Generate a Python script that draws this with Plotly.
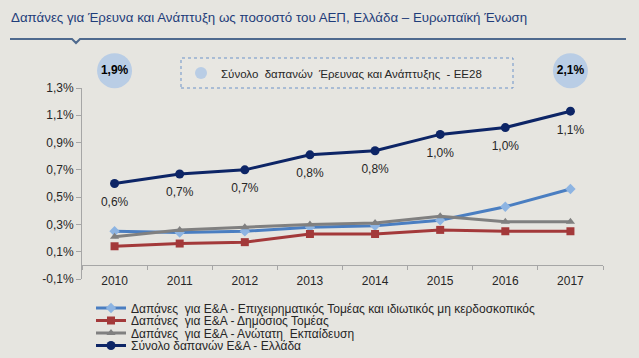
import plotly.graph_objects as go

years = ["2010", "2011", "2012", "2013", "2014", "2015", "2016", "2017"]
business = [0.25, 0.24, 0.25, 0.28, 0.29, 0.33, 0.43, 0.56]
government = [0.14, 0.16, 0.17, 0.23, 0.23, 0.26, 0.25, 0.25]
higher_ed = [0.21, 0.26, 0.28, 0.30, 0.31, 0.36, 0.32, 0.32]
greece_total = [0.60, 0.67, 0.70, 0.81, 0.84, 0.96, 1.01, 1.13]
ee28_years = ["2010", "2017"]
ee28_values = [1.9, 2.1]
ee28_row = [1, 1]
y_tick_vals = [-0.1, 0.1, 0.3, 0.5, 0.7, 0.9, 1.1, 1.3]
y_tick_text = ["-0,1%", "0,1%", "0,3%", "0,5%", "0,7%", "0,9%", "1,1%", "1,3%"]

names = [
    "Δαπάνες  για Ε&Α - Επιχειρηματικός Τομέας και ιδιωτικός μη κερδοσκοπικός",
    "Δαπάνες  για Ε&Α - Δημόσιος Τομέας",
    "Δαπάνες  για Ε&Α - Ανώτατη  Εκπαίδευση",
    "Σύνολο δαπανών Ε&Α - Ελλάδα",
]
ee28_name = "Σύνολο  δαπανών  Έρευνας και Ανάπτυξης  - ΕΕ28"
title_text = "Δαπάνες για Έρευνα και Ανάπτυξη ως ποσοστό του ΑΕΠ, Ελλάδα – Ευρωπαϊκή Ένωση"

def fmt(v):
    return f"{v:.1f}".replace(".", ",") + "%"

W, H = 639, 358
ML, MR, MT, MB = 82, 36, 50, 79
PW = W - ML - MR
PH = H - MT - MB
plot_bottom_px = H - MB

def px_x(p):
    return (p - ML) / PW

def px_y(p):
    return (plot_bottom_px - p) / PH

main_top_px = 88
dom = px_y(main_top_px)
zero_pos = dom * (0 - (-0.1)) / (1.3 - (-0.1))

BG = "#E6E5E0"
TXT = "#262626"
AXC = "#A6A6A6"
FONT = "Liberation Sans, Arial, sans-serif"

fig = go.Figure()

fig.add_trace(go.Scatter(
    x=years, y=business, name=names[0], mode="lines+markers",
    line=dict(color="#4A7EC1", width=3),
    marker=dict(symbol="diamond", size=8, color="#8DB4E2"),
    legend="legend", cliponaxis=False,
))
fig.add_trace(go.Scatter(
    x=years, y=government, name=names[1], mode="lines+markers",
    line=dict(color="#A3393A", width=3),
    marker=dict(symbol="square", size=8, color="#A3393A"),
    legend="legend2", cliponaxis=False,
))
fig.add_trace(go.Scatter(
    x=years, y=higher_ed, name=names[2], mode="lines+markers",
    line=dict(color="#808080", width=3),
    marker=dict(symbol="triangle-up", size=8, color="#808080"),
    legend="legend3", cliponaxis=False,
))
fig.add_trace(go.Scatter(
    x=years, y=greece_total, name=names[3], mode="lines+markers",
    line=dict(color="#0D2566", width=3),
    marker=dict(symbol="circle", size=9, color="#0D2566"),
    legend="legend4", cliponaxis=False,
))
# data labels for Greece total (offset below points)
fig.add_trace(go.Scatter(
    x=years, y=greece_total, mode="markers+text", showlegend=False,
    marker=dict(size=20, color="rgba(0,0,0,0)"),
    text=[fmt(v) for v in greece_total], textposition="bottom center",
    textfont=dict(size=12, color=TXT), cliponaxis=False, hoverinfo="skip",
))
# EE28 circles
fig.add_trace(go.Scatter(
    x=ee28_years, y=ee28_row, yaxis="y2", name=ee28_name, mode="markers",
    marker=dict(symbol="circle", size=35, color="#B9CDE5"),
    legend="legend5", cliponaxis=False,
))
fig.add_trace(go.Scatter(
    x=ee28_years, y=ee28_row, yaxis="y2", mode="text", showlegend=False,
    text=["<b>" + fmt(v) + "</b>" for v in ee28_values],
    textposition="middle center",
    textfont=dict(size=12, color="#000000"), cliponaxis=False,
))

leg_common = dict(xanchor="left", yanchor="middle", bgcolor="rgba(0,0,0,0)",
                  font=dict(size=12, color=TXT, family=FONT),
                  borderwidth=0)
leg_x = px_x(91)
fig.update_layout(
    legend=dict(x=leg_x, y=px_y(308), **leg_common),
    legend2=dict(x=leg_x, y=px_y(320.5), **leg_common),
    legend3=dict(x=leg_x, y=px_y(333), **leg_common),
    legend4=dict(x=leg_x, y=px_y(345.5), **leg_common),
    legend5=dict(x=px_x(181), y=px_y(73), xanchor="left", yanchor="middle",
                 bgcolor="rgba(0,0,0,0)", itemsizing="constant",
                 font=dict(size=11.5, color=TXT, family=FONT)),
)

fig.update_layout(
    width=W, height=H,
    margin=dict(l=ML, r=MR, t=MT, b=MB, autoexpand=False),
    paper_bgcolor=BG, plot_bgcolor=BG,
    font=dict(family=FONT, size=12, color=TXT),
    xaxis=dict(type="category", range=[-0.5, 7.5], anchor="free", position=zero_pos,
               showline=True, linecolor=AXC, linewidth=1,
               ticks="outside", tickson="boundaries", ticklen=4, tickcolor=AXC,
               ticklabelstandoff=4,
               showgrid=False, zeroline=False,
               tickfont=dict(size=12, color=TXT)),
    yaxis=dict(domain=[0, dom], range=[-0.1, 1.3], tickvals=y_tick_vals,
               ticktext=y_tick_text, showline=True, linecolor=AXC, linewidth=1,
               ticks="outside", ticklen=5, tickcolor=AXC, showgrid=False,
               zeroline=False, tickfont=dict(size=12, color=TXT)),
    yaxis2=dict(domain=[dom, 1], range=[0, 2.2], visible=False, anchor="x"),
    showlegend=True,
)

# Title
fig.add_annotation(text=title_text, xref="paper", yref="paper",
                   x=px_x(9), y=px_y(17), xanchor="left", yanchor="middle",
                   showarrow=False, font=dict(size=13.3, color="#1F3D7A"))

# Title underline with small notch
yl = px_y(39)
dx = 1 / PW
dy = 1 / PH
xn = px_x(76)
path = (f"M {px_x(10)},{yl} L {xn - 4*dx},{yl} L {xn},{yl - 4*dy} "
        f"L {xn + 4*dx},{yl} L {px_x(626)},{yl}")
fig.add_shape(type="path", path=path, xref="paper", yref="paper",
              line=dict(color="#4F6A8E", width=2))

# EE28 legend dashed box
fig.add_shape(type="rect", xref="paper", yref="paper",
              x0=px_x(181), x1=px_x(513), y0=px_y(88), y1=px_y(58),
              line=dict(color="#6C93C9", width=1, dash="dot"),
              fillcolor="rgba(255,255,255,0.08)", layer="below")

fig.write_html("out.html", config={"displayModeBar": False},
               post_script="document.body.style.margin='0';document.body.style.overflow='hidden';")
